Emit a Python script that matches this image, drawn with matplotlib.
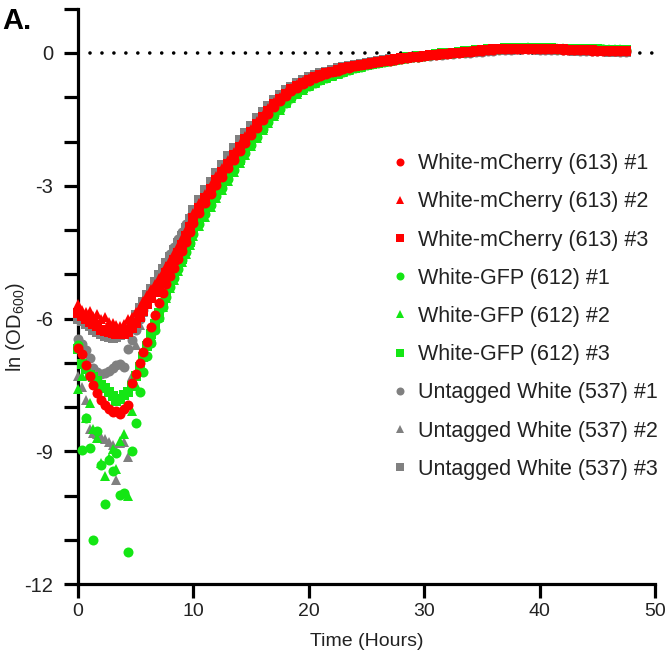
import numpy as np
import matplotlib
matplotlib.use("Agg")
import matplotlib.pyplot as plt
from matplotlib.ticker import MultipleLocator
from matplotlib.lines import Line2D

plt.rcParams['font.family'] = ['Liberation Sans', 'DejaVu Sans']
plt.rcParams['mathtext.fontset'] = 'custom'
plt.rcParams['mathtext.rm'] = 'Liberation Sans'
plt.rcParams['mathtext.it'] = 'Liberation Sans:italic'
plt.rcParams['axes.unicode_minus'] = False

# sampling: early part every 20 min from 0 h, later part every 30 min from 10 h
EARLY_T0, EARLY_DT = 0.0, 1.0 / 3.0
LATE_T0, LATE_DT = 10.0, 0.5

labels = ["White-mCherry (613) #1", "White-mCherry (613) #2", "White-mCherry (613) #3",
          "White-GFP (612) #1", "White-GFP (612) #2", "White-GFP (612) #3",
          "Untagged White (537) #1", "Untagged White (537) #2", "Untagged White (537) #3"]

# ---- White-mCherry (613) ----
mch1_early = [-6.66,-6.80,-7.05,-7.30,-7.50,-7.68,-7.85,-7.95,-8.05,-8.12,-8.10,-8.15,-8.05,-7.95,-7.45,
              -7.25,-7.00,-6.75,-6.52,-6.20,-5.92,-5.65,-5.42,-5.22,-5.03,-4.85,-4.66,-4.47,-4.26,-4.05]
mch1_late = [-3.84,-3.62,-3.40,-3.19,-2.99,-2.80,-2.60,-2.41,-2.22,-2.04,-1.86,-1.69,-1.52,-1.37,-1.22,-1.09,
             -0.97,-0.86,-0.78,-0.70,-0.63,-0.57,-0.52,-0.48,-0.44,-0.40,-0.36,-0.33,-0.30,-0.28,-0.25,-0.23,
             -0.21,-0.19,-0.17,-0.15,-0.13,-0.11,-0.10,-0.08,-0.07,-0.05,-0.04,-0.03,-0.02,-0.01,
             0.00,0.02,0.03,0.04,0.05,0.06,0.07,0.08,0.09,0.09,0.10,0.10,0.09,0.09,0.09,0.09,0.08,0.08,0.07,
             0.07,0.07,0.06,0.06,0.05,0.05,0.05,0.05,0.04,0.04,0.04]
mch2_early = [-5.68,-5.80,-5.86,-5.84,-5.95,-5.90,-6.02,-5.96,-6.08,-6.10,-6.14,-6.16,-6.12,-6.02,-5.96,
              -5.86,-5.74,-5.60,-5.47,-5.34,-5.21,-5.08,-4.95,-4.81,-4.67,-4.52,-4.36,-4.19,-4.01,-3.82]
mch2_late = [-3.62,-3.40,-3.18,-2.99,-2.79,-2.60,-2.41,-2.23,-2.05,-1.88,-1.71,-1.54,-1.39,-1.25,-1.11,-0.99,
             -0.88,-0.79,-0.71,-0.64,-0.57,-0.52,-0.48,-0.44,-0.40,-0.37,-0.34,-0.31,-0.28,-0.26,-0.23,-0.21,
             -0.19,-0.17,-0.15,-0.13,-0.11,-0.10,-0.08,-0.07,-0.06,-0.04,-0.03,-0.02,-0.01,0.00,
             0.01,0.02,0.04,0.05,0.06,0.07,0.08,0.08,0.09,0.09,0.10,0.10,0.10,0.09,0.09,0.09,0.08,0.08,0.08,
             0.07,0.07,0.06,0.06,0.06,0.05,0.05,0.05,0.04,0.04,0.04]
mch3_early = [-5.88,-5.95,-6.02,-6.08,-6.12,-6.18,-6.25,-6.28,-6.30,-6.33,-6.35,-6.36,-6.34,-6.30,-6.22,
              -6.10,-5.96,-5.82,-5.68,-5.54,-5.40,-5.26,-5.12,-4.98,-4.84,-4.68,-4.51,-4.33,-4.13,-3.93]
mch3_late = [-3.72,-3.50,-3.28,-3.08,-2.88,-2.69,-2.50,-2.31,-2.13,-1.95,-1.78,-1.61,-1.45,-1.30,-1.16,-1.03,
             -0.92,-0.82,-0.74,-0.67,-0.60,-0.55,-0.50,-0.46,-0.42,-0.39,-0.35,-0.32,-0.29,-0.27,-0.24,-0.22,
             -0.20,-0.18,-0.16,-0.14,-0.12,-0.11,-0.09,-0.08,-0.07,-0.05,-0.04,-0.03,-0.02,-0.01,
             0.01,0.02,0.03,0.05,0.06,0.07,0.08,0.09,0.09,0.10,0.10,0.10,0.10,0.10,0.09,0.09,0.09,0.08,0.08,
             0.07,0.07,0.06,0.06,0.06,0.05,0.05,0.05,0.04,0.04,0.04]

# ---- White-GFP (612) ----
gfp1_early = [-6.60,-8.97,-8.25,-8.93,-11.00,-8.55,-9.30,-10.20,-9.20,-9.45,-9.05,-9.99,-9.95,-11.28,-9.00,
              -8.37,-7.65,-7.20,-6.85,-6.55,-6.25,-5.98,-5.74,-5.51,-5.29,-5.08,-4.88,-4.68,-4.49,-4.30]
gfp1_late = [-4.08,-3.86,-3.64,-3.43,-3.23,-3.04,-2.84,-2.64,-2.45,-2.26,-2.08,-1.90,-1.72,-1.55,-1.40,-1.26,
             -1.13,-1.01,-0.91,-0.82,-0.74,-0.67,-0.61,-0.56,-0.50,-0.46,-0.42,-0.38,-0.34,-0.31,-0.28,-0.25,
             -0.22,-0.20,-0.17,-0.15,-0.13,-0.11,-0.09,-0.08,-0.07,-0.05,-0.03,-0.02,-0.01,0.01,
             0.02,0.03,0.04,0.06,0.07,0.08,0.09,0.10,0.11,0.11,0.12,0.12,0.12,0.12,0.12,0.11,0.11,0.10,0.10,
             0.10,0.09,0.09,0.09,0.08,0.08,0.08,0.07,0.07,0.07,0.07]
gfp2_early = [-7.60,-7.30,-8.24,-7.90,-8.50,-8.70,-9.26,-9.56,-9.15,-8.96,-9.40,-8.77,-8.62,-10.00,-8.10,
              -7.50,-7.10,-6.85,-6.62,-6.40,-6.18,-5.96,-5.74,-5.53,-5.32,-5.12,-4.92,-4.73,-4.54,-4.35]
gfp2_late = [-4.14,-3.92,-3.70,-3.49,-3.28,-3.09,-2.89,-2.69,-2.49,-2.30,-2.11,-1.93,-1.75,-1.58,-1.42,-1.28,
             -1.14,-1.02,-0.92,-0.83,-0.75,-0.68,-0.62,-0.57,-0.51,-0.47,-0.43,-0.39,-0.35,-0.31,-0.28,-0.25,
             -0.22,-0.20,-0.17,-0.15,-0.13,-0.11,-0.09,-0.07,-0.06,-0.04,-0.03,-0.01,0.00,0.01,
             0.03,0.04,0.05,0.06,0.07,0.08,0.09,0.10,0.11,0.12,0.12,0.12,0.13,0.12,0.12,0.12,0.11,0.11,0.11,
             0.10,0.10,0.10,0.09,0.09,0.09,0.08,0.08,0.08,0.08,0.07]
gfp3_early = [-6.70,-7.02,-7.15,-7.28,-7.32,-7.42,-7.50,-7.58,-7.66,-7.76,-7.86,-7.82,-7.74,-7.66,-7.52,
              -7.30,-7.10,-6.88,-6.62,-6.36,-6.12,-5.88,-5.66,-5.44,-5.23,-5.03,-4.84,-4.65,-4.46,-4.26]
gfp3_late = [-4.02,-3.80,-3.58,-3.38,-3.18,-2.99,-2.80,-2.60,-2.41,-2.22,-2.04,-1.86,-1.69,-1.52,-1.37,-1.22,
             -1.10,-0.98,-0.88,-0.80,-0.72,-0.66,-0.60,-0.55,-0.49,-0.45,-0.41,-0.37,-0.33,-0.30,-0.27,-0.24,
             -0.22,-0.19,-0.17,-0.15,-0.12,-0.10,-0.08,-0.07,-0.06,-0.04,-0.02,-0.01,0.00,0.01,
             0.03,0.04,0.05,0.06,0.07,0.08,0.09,0.10,0.11,0.11,0.12,0.12,0.12,0.12,0.11,0.11,0.11,0.10,0.10,
             0.10,0.09,0.09,0.08,0.08,0.08,0.07,0.07,0.07,0.07,0.06]

# ---- Untagged White (537) ----
unt1_early = [-6.47,-6.58,-6.72,-6.90,-7.12,-7.22,-7.26,-7.24,-7.18,-7.12,-7.05,-7.02,-7.10,-6.70,-6.48,
              -6.25,-6.02,-5.80,-5.60,-5.41,-5.23,-5.06,-4.89,-4.72,-4.55,-4.38,-4.21,-4.04,-3.87,-3.70]
unt1_late = [-3.58,-3.36,-3.14,-2.94,-2.74,-2.55,-2.36,-2.18,-2.00,-1.83,-1.67,-1.51,-1.36,-1.22,-1.09,-0.97,
             -0.85,-0.77,-0.69,-0.63,-0.56,-0.51,-0.47,-0.43,-0.39,-0.36,-0.33,-0.30,-0.27,-0.25,-0.22,-0.21,
             -0.19,-0.17,-0.15,-0.14,-0.12,-0.11,-0.09,-0.08,-0.07,-0.06,-0.05,-0.04,-0.03,-0.02,
             -0.01,0.00,0.01,0.02,0.03,0.04,0.05,0.06,0.07,0.07,0.08,0.08,0.08,0.08,0.07,0.07,0.07,0.07,0.06,
             0.06,0.06,0.05,0.05,0.05,0.04,0.04,0.04,0.04,0.03,0.03]
unt2_early = [-7.30,-7.55,-7.85,-8.50,-8.58,-8.62,-8.68,-8.72,-8.78,-8.85,-9.65,-8.82,-8.80,-9.12,-7.30,
              -6.60,-6.15,-5.85,-5.60,-5.40,-5.22,-5.05,-4.88,-4.72,-4.56,-4.40,-4.24,-4.07,-3.90,-3.74]
unt2_late = [-3.60,-3.38,-3.17,-2.97,-2.77,-2.58,-2.39,-2.21,-2.03,-1.86,-1.69,-1.53,-1.37,-1.23,-1.10,-0.98,
             -0.87,-0.78,-0.70,-0.64,-0.57,-0.52,-0.48,-0.44,-0.40,-0.37,-0.34,-0.31,-0.28,-0.26,-0.23,-0.21,
             -0.19,-0.17,-0.16,-0.14,-0.12,-0.11,-0.09,-0.08,-0.07,-0.05,-0.04,-0.03,-0.02,-0.01,
             0.00,0.01,0.02,0.03,0.04,0.05,0.06,0.06,0.07,0.07,0.08,0.08,0.08,0.08,0.08,0.07,0.07,0.07,0.06,
             0.06,0.06,0.05,0.05,0.05,0.05,0.04,0.04,0.04,0.03,0.03]
unt3_early = [-6.00,-6.05,-6.12,-6.18,-6.25,-6.30,-6.36,-6.40,-6.42,-6.43,-6.42,-6.38,-6.30,-6.18,-6.08,
              -5.92,-5.77,-5.62,-5.48,-5.34,-5.18,-5.02,-4.89,-4.75,-4.61,-4.46,-4.30,-4.13,-3.95,-3.76]
unt3_late = [-3.54,-3.32,-3.10,-2.91,-2.71,-2.52,-2.33,-2.15,-1.97,-1.80,-1.64,-1.48,-1.33,-1.19,-1.06,-0.95,
             -0.84,-0.76,-0.68,-0.61,-0.55,-0.50,-0.46,-0.42,-0.38,-0.35,-0.32,-0.29,-0.27,-0.24,-0.22,-0.20,
             -0.18,-0.16,-0.14,-0.13,-0.11,-0.10,-0.08,-0.07,-0.06,-0.05,-0.04,-0.03,-0.02,-0.01,
             0.00,0.01,0.02,0.03,0.04,0.05,0.06,0.07,0.07,0.08,0.08,0.08,0.08,0.08,0.07,0.07,0.07,0.06,0.06,
             0.06,0.05,0.05,0.05,0.04,0.04,0.04,0.03,0.03,0.03,0.03]

RED, GREEN, GRAY = "#FF0000", "#14E614", "#808080"
series = [
    (mch1_early, mch1_late, RED, "o"), (mch2_early, mch2_late, RED, "^"), (mch3_early, mch3_late, RED, "s"),
    (gfp1_early, gfp1_late, GREEN, "o"), (gfp2_early, gfp2_late, GREEN, "^"), (gfp3_early, gfp3_late, GREEN, "s"),
    (unt1_early, unt1_late, GRAY, "o"), (unt2_early, unt2_late, GRAY, "^"), (unt3_early, unt3_late, GRAY, "s"),
]
msize = {"o": 7.2, "^": 7.8, "s": 6.6}

fig = plt.figure(figsize=(6.67, 6.60), dpi=100)
ax = fig.add_axes([78 / 667, 76 / 660, 577 / 667, 575.25 / 660])

# zero reference line (dotted)
ax.axhline(0, xmin=0.02, xmax=1.0, color="black", lw=2.6,
           linestyle=(0, (0.01, 3.3)), dash_capstyle="round", zorder=1)

# draw untagged first, then GFP, then mCherry on top
for idx in [6, 7, 8, 3, 4, 5, 0, 1, 2]:
    early, late, col, mk = series[idx]
    t = np.concatenate([EARLY_T0 + EARLY_DT * np.arange(len(early)),
                        LATE_T0 + LATE_DT * np.arange(len(late))])
    y = np.concatenate([early, late])
    ax.plot(t, y, linestyle="none", marker=mk, ms=msize[mk], color=col,
            mec=col, mew=0, zorder=3, clip_on=False)

ax.set_xlim(0, 50)
ax.set_ylim(-12, 1)
ax.xaxis.set_major_locator(MultipleLocator(10))
ax.yaxis.set_major_locator(MultipleLocator(3))
ax.yaxis.set_minor_locator(MultipleLocator(1))
for s in ["top", "right"]:
    ax.spines[s].set_visible(False)
for s in ["left", "bottom"]:
    ax.spines[s].set_linewidth(2.3)
ax.tick_params(axis="both", which="both", direction="out", length=10, width=2.3,
               labelsize=14, colors="black", labelcolor="#222222")
ax.tick_params(axis="y", which="major", pad=8, labelsize=14.5)
ax.tick_params(axis="x", which="major", pad=4)
ax.set_xlabel("Time (Hours)", fontsize=14, color="#222222", labelpad=9)
ax.set_ylabel(r"ln (OD$_{600}$)", fontsize=14.5, color="#222222")
ax.yaxis.set_label_coords(-0.088, 0.447)

handles = [Line2D([], [], linestyle="none", marker=s[3], color=s[2], mew=0,
                  ms=msize[s[3]] * 0.8) for s in series]
leg = ax.legend(handles, labels, loc="upper left", bbox_to_anchor=(0.544, 0.749),
                frameon=False, fontsize=15.5, handlelength=0.8, handletextpad=0.4,
                labelspacing=0.8, borderpad=0, borderaxespad=0)
for txt in leg.get_texts():
    txt.set_color("#222222")

fig.text(0.003, 0.99, "A.", fontsize=21, fontweight="bold", va="top", ha="left")

fig.savefig("out.png", dpi=100)
